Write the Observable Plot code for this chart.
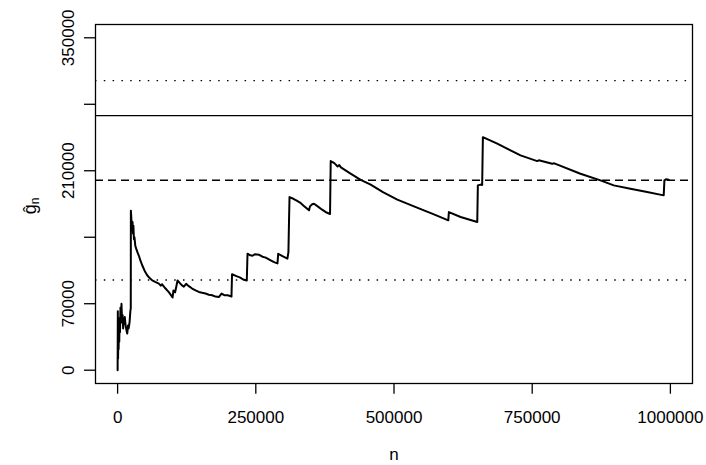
<!DOCTYPE html>
<html>
<head>
<meta charset="utf-8">
<script src="https://cdn.jsdelivr.net/npm/d3@7"></script>
<script src="https://cdn.jsdelivr.net/npm/@observablehq/plot@0.6"></script>
<style>
  html, body { margin: 0; padding: 0; background: #fff; }
  #chart svg { display: block; }
</style>
</head>
<body>
<div id="chart"></div>
<script>
// Sample size n
const nVals = [
  0, 400, 800, 1300, 1800, 2400, 3000, 3600, 4300, 5200, 6000, 7000, 8000, 9000, 10000,
  11000, 12000, 13000, 14500, 16000, 17400, 18800, 20000, 21700, 23000, 23800, 24000,
  25000, 26000, 27000, 27800, 28600, 29500, 30500, 32000, 33600, 36000, 38500, 41500,
  44500, 49000, 53500, 58000, 62500, 68000, 74600, 78000, 80500, 86700, 93000, 99400,
  101000, 104000, 106500, 108400, 113000, 116000, 119800, 124000, 128800, 134800, 141000,
  147000, 153000, 159000, 165000, 171000, 177000, 183100, 188000, 193000, 199000, 204800,
  206000, 207000, 215000, 222000, 227000, 233700, 235000, 240000, 244000, 248000, 256000,
  262000, 268000, 276000, 284000, 289200, 290500, 294000, 300000, 307200, 309000, 310100,
  311000, 318000, 324000, 330000, 337000, 346300, 348000, 352000, 355300, 362000, 370000,
  378000, 384300, 385500, 392000, 398000, 401000, 404000, 420000, 439700, 457800, 480000,
  506000, 536100, 572200, 598200, 599300, 620500, 650600, 651700, 656600, 659500, 660800,
  686800, 728900, 759100, 762000, 786200, 790000, 837300, 873500, 897500, 927700, 957900,
  987900, 989200, 992000, 997000
];
// Estimate g-hat_n
const gVals = [
  0, 62000, 12000, 33000, 22000, 48000, 30000, 55000, 40000, 66000, 50000, 70000, 52000, 58000, 44000,
  54000, 49000, 56000, 47000, 42000, 38500, 47000, 44000, 51000, 62000, 65000, 168000,
  158000, 150000, 156000, 144000, 152000, 138000, 140000, 131000, 128000, 124000, 120500, 115000,
  110500, 104500, 100000, 97000, 94700, 93000, 91200, 89000, 90500, 86000, 82000, 76500,
  84000, 82000, 89000, 94500, 91500, 89500, 88000, 91000, 88500, 86000, 84000,
  82400, 81500, 80700, 79500, 78900, 77500, 77000, 80700, 79000, 78900, 77900,
  77600, 101000, 99000, 97500, 95500, 94500, 122700, 121000, 120500, 122000, 121500,
  119500, 118500, 116000, 113500, 112500, 122500, 121500, 119500, 117500, 124400, 157800,
  182300, 180500, 178500, 176500, 173000, 168300, 172500, 174800, 175300, 172500, 169000,
  166000, 164500, 220200, 218000, 214500, 216000, 213500, 207500, 200500, 195400, 187500,
  179600, 172500, 164100, 157800, 166500, 161300, 156000, 194600, 195400, 195000, 245400,
  238500, 226200, 220200, 221000, 217400, 217800, 206900, 199900, 194600, 191100, 187600,
  184100, 199900, 201000, 200500
];

// Reference levels
const bandLevels = [95000, 305000];   // dotted
const centerLevel = [200000];         // dashed
const solidLevel = [268000];          // solid

// Axis ticks and labels
const xTicks = [0, 250000, 500000, 750000, 1000000];
const xTickLabels = ["0", "250000", "500000", "750000", "1000000"];
const yTicks = [0, 70000, 140000, 210000, 280000, 350000];
const yLabelTicks = [0, 70000, 210000, 350000];
const yTickLabels = ["0", "70000", "210000", "350000"];
const xTitle = "n";

const series = nVals.map((n, i) => ({n, g: gVals[i]}));
const FONT = "'Liberation Sans', Arial, Helvetica, sans-serif";

const chart = Plot.plot({
  width: 706,
  height: 465,
  marginTop: 24,
  marginBottom: 82,
  marginLeft: 95,
  marginRight: 14,
  style: {fontFamily: FONT, background: "#fff", color: "#000"},
  x: {domain: [-40000, 1040000], axis: null},
  y: {domain: [-14000, 364000], axis: null},
  marks: [
    Plot.ruleY(bandLevels, {stroke: "#000", strokeWidth: 1.3, strokeDasharray: "1.5,7.3"}),
    Plot.ruleY(centerLevel, {stroke: "#000", strokeWidth: 1.3, strokeDasharray: "8,5"}),
    Plot.ruleY(solidLevel, {stroke: "#000", strokeWidth: 1.3}),
    Plot.line(series, {x: "n", y: "g", stroke: "#000", strokeWidth: 2, strokeLinejoin: "round"}),
    Plot.frame({stroke: "#000", strokeWidth: 1.3}),
    Plot.axisX({ticks: xTicks, tickSize: 10.7, tickFormat: () => "", label: null, stroke: "#000", strokeWidth: 1.3}),
    Plot.axisY({ticks: yTicks, tickSize: 11, tickFormat: () => "", label: null, stroke: "#000", strokeWidth: 1.3}),
    Plot.text(xTicks, {x: d => d, text: (d, i) => xTickLabels[i], frameAnchor: "bottom", dy: 39.7,
      lineAnchor: "bottom", textAnchor: "middle", fontSize: 17, fill: "#000"}),
    Plot.text(yLabelTicks, {y: d => d, text: (d, i) => yTickLabels[i], frameAnchor: "left", dx: -22,
      rotate: -90, lineAnchor: "bottom", textAnchor: "middle", fontSize: 17, fill: "#000"}),
    Plot.text([xTitle], {text: d => d, frameAnchor: "bottom", dy: 76.5, lineAnchor: "bottom",
      textAnchor: "middle", fontSize: 17, fill: "#000"}),
    Plot.text(["ĝ"], {text: d => d, frameAnchor: "left", dx: -60, dy: 2, rotate: -90,
      lineAnchor: "bottom", textAnchor: "middle", fontSize: 18, fill: "#000", className: "ylab"})
  ]
});

// add the subscript n to the y-axis title
d3.select(chart).selectAll(".ylab text").each(function() {
  const t = d3.select(this);
  t.append("tspan").attr("dy", "0.3em").attr("font-size", 12).text("n");
});

document.getElementById("chart").appendChild(chart);
</script>
</body>
</html>
